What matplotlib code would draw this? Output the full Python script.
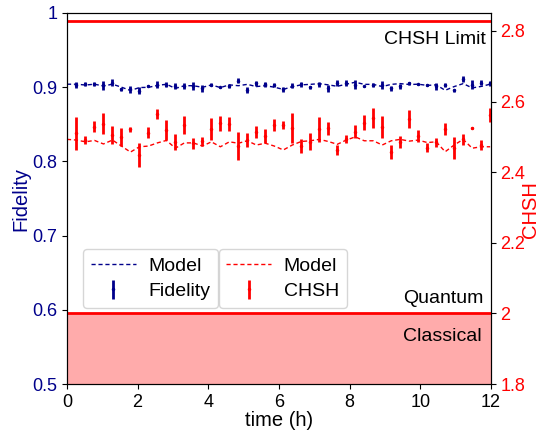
import numpy as np
import matplotlib
matplotlib.use('Agg')
import matplotlib.pyplot as plt
from matplotlib.ticker import FormatStrFormatter

plt.rcParams['font.family'] = ['Liberation Sans', 'DejaVu Sans']

# measurement times (h), one every ~15 min
t = np.linspace(0.27, 11.98, 47)

fid = [0.9034, 0.9043, 0.9043, 0.9025, 0.9060, 0.8972, 0.8970, 0.8953, 0.9016, 0.9034,
       0.9034, 0.9016, 0.9016, 0.9016, 0.8985, 0.9030, 0.8997, 0.9016, 0.9088, 0.8960,
       0.9052, 0.9039, 0.9030, 0.8971, 0.9021, 0.9039, 0.8997, 0.9039, 0.8985, 0.9052,
       0.9052, 0.9030, 0.9012, 0.9030, 0.9030, 0.8985, 0.9012, 0.9052, 0.9039, 0.9030,
       0.9012, 0.9030, 0.8960, 0.9106, 0.9030, 0.9060, 0.9050]
fid_err = [0.004, 0.003, 0.003, 0.006, 0.005, 0.002, 0.0045, 0.0045, 0.0015, 0.0045,
           0.003, 0.0035, 0.0045, 0.005, 0.005, 0.002, 0.001, 0.003, 0.0035, 0.004,
           0.003, 0.003, 0.003, 0.003, 0.0035, 0.0035, 0.002, 0.0035, 0.005, 0.004,
           0.004, 0.006, 0.001, 0.003, 0.005, 0.003, 0.0035, 0.002, 0.001, 0.001,
           0.005, 0.003, 0.002, 0.004, 0.006, 0.003, 0.003]

chsh = [2.510, 2.491, 2.529, 2.537, 2.505, 2.499, 2.521, 2.449, 2.512, 2.565,
        2.520, 2.486, 2.534, 2.482, 2.487, 2.522, 2.538, 2.537, 2.474, 2.491,
        2.513, 2.503, 2.534, 2.534, 2.526, 2.474, 2.486, 2.521, 2.524, 2.463,
        2.493, 2.515, 2.540, 2.553, 2.527, 2.458, 2.485, 2.550, 2.502, 2.469,
        2.485, 2.522, 2.469, 2.493, 2.524, 2.477, 2.562]
chsh_err = [0.047, 0.012, 0.016, 0.030, 0.026, 0.025, 0.006, 0.034, 0.016, 0.013,
            0.028, 0.023, 0.025, 0.016, 0.012, 0.031, 0.021, 0.019, 0.039, 0.019,
            0.017, 0.019, 0.016, 0.011, 0.042, 0.019, 0.024, 0.035, 0.019, 0.014,
            0.011, 0.019, 0.021, 0.028, 0.031, 0.020, 0.017, 0.025, 0.017, 0.013,
            0.013, 0.016, 0.031, 0.015, 0.003, 0.014, 0.020]

# model curves (start at t=0, then at every measurement time)
t_model = np.concatenate([[0.0], t])
fid_model = [0.9040,
             0.9040, 0.9029, 0.9040, 0.9016, 0.9040, 0.9000, 0.8955, 0.8995, 0.8998, 0.9023,
             0.9040, 0.8983, 0.9020, 0.9020, 0.8998, 0.9030, 0.8995, 0.9031, 0.9020, 0.9038,
             0.9008, 0.9020, 0.9000, 0.8970, 0.9008, 0.9031, 0.9038, 0.9048, 0.9031, 0.9012,
             0.9040, 0.9067, 0.9038, 0.9038, 0.9008, 0.9038, 0.9048, 0.9036, 0.9040, 0.9024,
             0.9031, 0.8958, 0.9008, 0.9048, 0.8990, 0.9010, 0.9040]
chsh_model = [2.493,
              2.491, 2.486, 2.490, 2.480, 2.491, 2.474, 2.457, 2.472, 2.474, 2.483,
              2.490, 2.468, 2.483, 2.483, 2.474, 2.486, 2.472, 2.486, 2.482, 2.489,
              2.477, 2.482, 2.474, 2.463, 2.477, 2.487, 2.489, 2.493, 2.487, 2.479,
              2.491, 2.500, 2.489, 2.489, 2.477, 2.489, 2.493, 2.488, 2.491, 2.484,
              2.486, 2.458, 2.477, 2.493, 2.468, 2.472, 2.472]

blue = '#00008b'
red = '#ff0000'
fs = 13      # tick labels
fl = 14.5    # axis labels
ft = 14      # legend and annotations

fig = plt.figure(figsize=(5.4, 4.32), dpi=100)
ax1 = fig.add_axes([0.124, 0.111, 0.785, 0.859])
ax2 = ax1.twinx()

l1, = ax1.plot(t_model, fid_model, '--', color=blue, lw=1, dashes=(3, 2))
e1 = ax1.errorbar(t, fid, yerr=fid_err, fmt='.', color=blue, ms=3, elinewidth=2, capsize=0)
ax1.set_xlim(0, 12)
ax1.set_ylim(0.5, 1.0)
ax1.set_xticks([0, 2, 4, 6, 8, 10, 12])
ax1.set_yticks([0.5, 0.6, 0.7, 0.8, 0.9, 1.0])
ax1.yaxis.set_major_formatter(FormatStrFormatter('%g'))
ax1.set_xlabel('time (h)', fontsize=fl, labelpad=0)
ax1.set_ylabel('Fidelity', fontsize=fl, color=blue, labelpad=1)
ax1.tick_params(axis='y', labelsize=fs, labelcolor=blue)
ax1.tick_params(axis='x', labelsize=fs)

ax2.axhspan(1.8, 2.0, color=red, alpha=0.33, lw=0)
ax2.axhline(2.0, color=red, lw=2)
ax2.axhline(2 * np.sqrt(2), color=red, lw=2)
l2, = ax2.plot(t_model, chsh_model, '--', color=red, lw=1, dashes=(3, 2))
e2 = ax2.errorbar(t, chsh, yerr=chsh_err, fmt='.', color=red, ms=3, elinewidth=2, capsize=0)
ax2.set_ylim(1.8, 2.851)
ax2.set_yticks([1.8, 2.0, 2.2, 2.4, 2.6, 2.8])
ax2.yaxis.set_major_formatter(FormatStrFormatter('%g'))
ax2.set_ylabel('CHSH', fontsize=fl, color=red, labelpad=1)
ax2.yaxis.set_label_coords(1.07, 0.47)
ax2.tick_params(axis='y', labelsize=fs, labelcolor=red)

ax2.text(11.85, 2.775, 'CHSH Limit', ha='right', va='center', fontsize=ft)
ax2.text(11.8, 2.043, 'Quantum', ha='right', va='center', fontsize=ft)
ax2.text(11.75, 1.936, 'Classical', ha='right', va='center', fontsize=ft)

leg_kw = dict(loc='lower left', fontsize=ft, handlelength=2.3, handletextpad=0.65,
              borderpad=0.4, labelspacing=0.4, borderaxespad=0)
leg1 = ax2.legend([l1, e1], ['Model', 'Fidelity'], bbox_to_anchor=(0.038, 0.205), **leg_kw)
ax2.add_artist(leg1)
ax2.legend([l2, e2], ['Model', 'CHSH'], bbox_to_anchor=(0.358, 0.205), **leg_kw)

fig.savefig('out.png', dpi=100)
